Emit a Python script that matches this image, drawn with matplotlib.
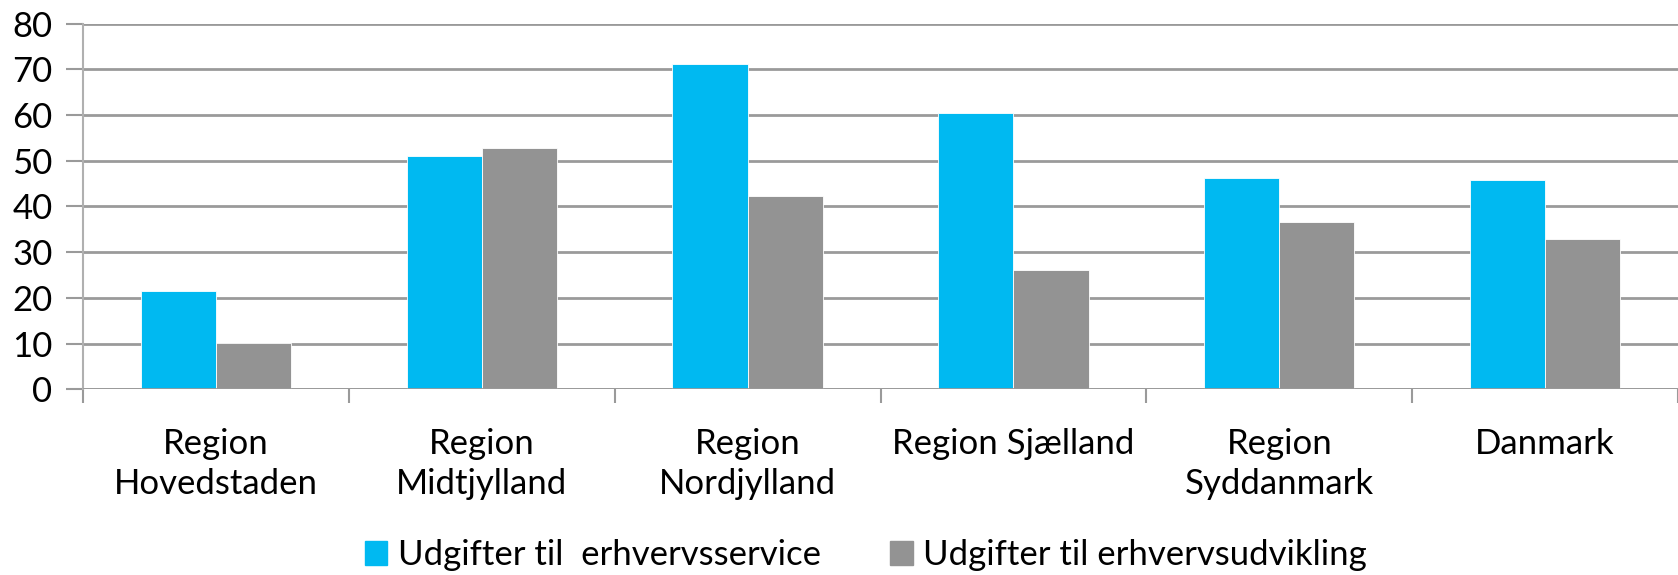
import numpy as np
import matplotlib
matplotlib.use("Agg")
import matplotlib.pyplot as plt
from matplotlib.patches import Patch

plt.rcParams['font.family'] = ['Lato', 'DejaVu Sans']

# data
regions = ["Region\nHovedstaden", "Region\nMidtjylland", "Region\nNordjylland",
           "Region Sjælland", "Region\nSyddanmark", "Danmark"]
service = [21.4, 51.1, 71.1, 60.4, 46.2, 45.8]
udvikling = [10.1, 52.8, 42.2, 26.1, 36.6, 32.8]
series_names = ["Udgifter til  erhvervsservice", "Udgifter til erhvervsudvikling"]
yticks = [0, 10, 20, 30, 40, 50, 60, 70, 80]

blue = "#00B9F1"
gray = "#939393"
grid_col = "#9a9a9a"

fig = plt.figure(figsize=(16.78, 5.75), dpi=100)
ax = fig.add_axes([0.0495, 0.323, 0.9505, 0.636])

x = np.arange(len(regions))
w = 0.283
ax.bar(x - w/2, service, w, color=blue, edgecolor="white", linewidth=0.6, zorder=3)
ax.bar(x + w/2, udvikling, w, color=gray, edgecolor="white", linewidth=0.6, zorder=3)

ax.set_ylim(0, 80)
ax.set_xlim(-0.5, 5.46)
ax.set_yticks(yticks)
ax.yaxis.grid(True, color=grid_col, linewidth=2, zorder=0)
ax.set_axisbelow(True)

for s in ["top", "right", "bottom"]:
    ax.spines[s].set_visible(False)
ax.spines["left"].set_color("#b0b0b0")
ax.spines["left"].set_linewidth(1.5)
ax.axhline(0, color=grid_col, linewidth=2, zorder=4)

ax.tick_params(axis="y", length=12, width=1.5, color=grid_col, labelsize=25, pad=10)
ax.set_xticks(x)
ax.set_xticklabels(regions, fontsize=25, linespacing=1.32)
ax.tick_params(axis="x", which="major", length=0, pad=28)
ax.set_xticks(np.arange(-0.5, 6, 1), minor=True)
ax.tick_params(axis="x", which="minor", length=10, width=1.5, color=grid_col)

handles = [Patch(color=blue), Patch(color=gray)]
fig.legend(handles, series_names, loc="center", bbox_to_anchor=(0.516, 0.035),
           ncol=2, frameon=False, fontsize=25, handlelength=0.65, handleheight=0.7,
           handletextpad=0.3, columnspacing=2.0)

fig.savefig("out.png", dpi=100)
